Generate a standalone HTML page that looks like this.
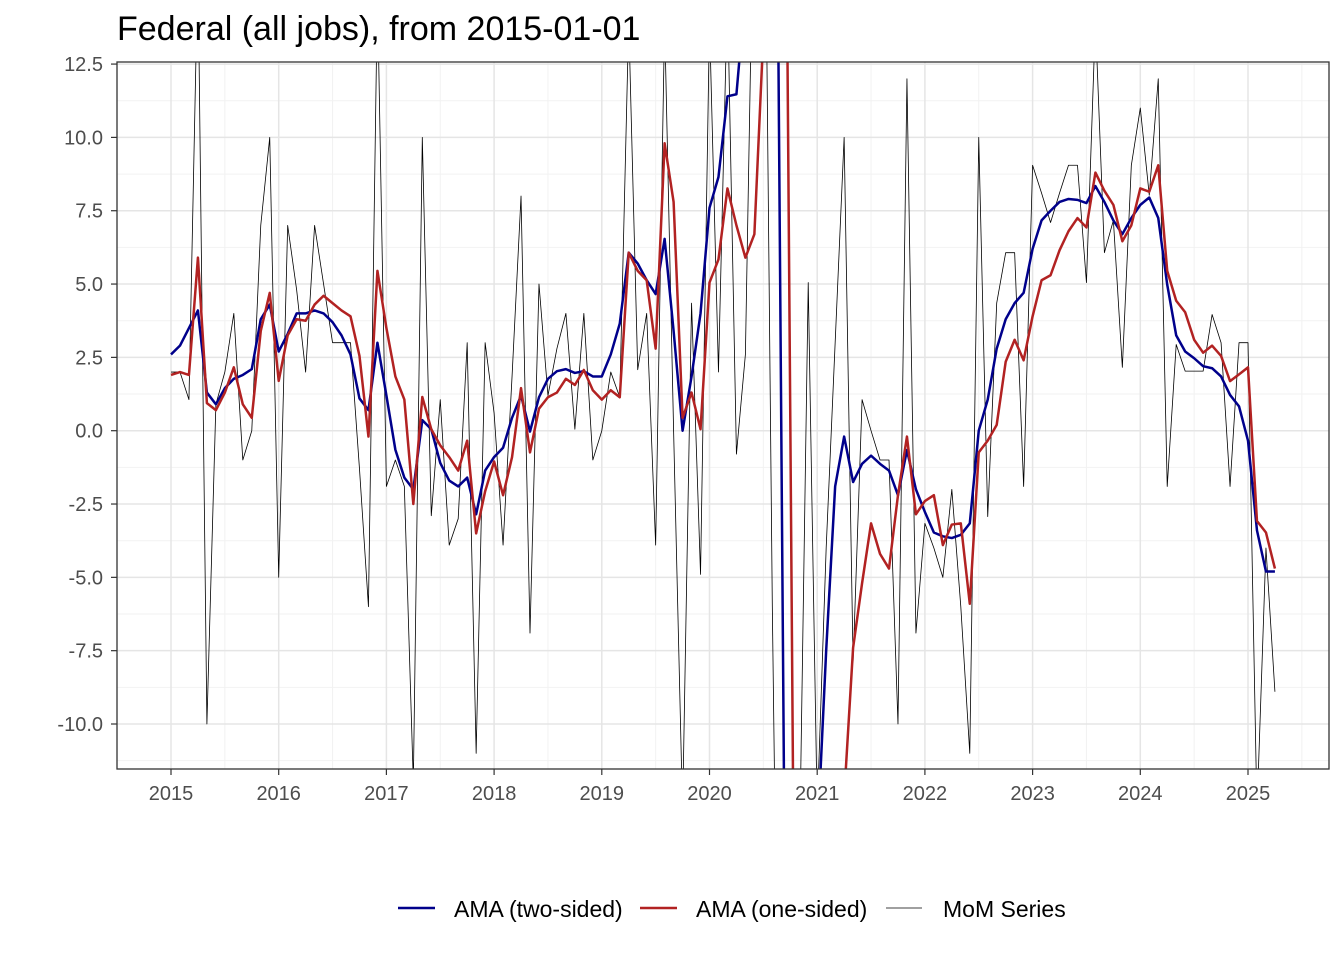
<!DOCTYPE html>
<html><head><meta charset="utf-8"><style>
html,body{margin:0;padding:0;background:#fff;width:1344px;height:960px;overflow:hidden;}
svg{display:block;font-family:"Liberation Sans",Arial,sans-serif;}
</style></head><body>
<svg id="chart" width="1344" height="960" viewBox="0 0 1344 960">
<text x="117" y="40" font-size="34" fill="#000">Federal (all jobs), from 2015-01-01</text>
<defs><clipPath id="clip"><rect x="117" y="62" width="1212" height="707"/></clipPath></defs>
<g id="grid"></g>
<g id="series" clip-path="url(#clip)"></g>
<rect x="117" y="62" width="1212" height="707" fill="none" stroke="#333" stroke-width="1.3"/>
<g id="axes"></g>
<g>
 <line x1="398" y1="908" x2="435" y2="908" stroke="#00008B" stroke-width="2.5"/>
 <text x="454" y="917" font-size="23" fill="#000">AMA (two-sided)</text>
 <line x1="640" y1="908" x2="677" y2="908" stroke="#B22222" stroke-width="2.5"/>
 <text x="696" y="917" font-size="23" fill="#000">AMA (one-sided)</text>
 <line x1="886" y1="908" x2="922" y2="908" stroke="#000" stroke-width="0.8"/>
 <text x="943" y="917" font-size="23" fill="#000">MoM Series</text>
</g>
</svg>
<script>
const yTicks = [-10, -7.5, -5, -2.5, 0, 2.5, 5, 7.5, 10, 12.5];
const yTickLabels = ["-10.0","-7.5","-5.0","-2.5","0.0","2.5","5.0","7.5","10.0","12.5"];
const xYears = [2015,2016,2017,2018,2019,2020,2021,2022,2023,2024,2025];
const startYear = 2015;
const momSeries = [2.0,2.0,1.06,16,-10,0.9,2.0,4.0,-1.0,0,7.0,10.0,
-5.0,7.0,4.8,2.0,7.0,5.0,3.0,3.0,3.0,-1.3,-6.0,15,
-1.9,-1.0,-1.9,-12,10.0,-2.9,1.06,-3.9,-3.0,3.0,-11.0,3.0,
0.6,-3.9,1.85,8.0,-6.9,5.0,1.2,2.8,4.0,0.05,4.0,-1.0,
0.0,2.0,1.14,14,2.08,4.0,-3.9,14,0,-13,4.35,-4.9,
14,2.0,15,-0.8,2.6,20,25,-6,-30,-25,-15,5.05,
-13,-4,3,10,-7.9,1.06,0,-1.0,-1.0,-10,12,-6.9,
-3.16,-4,-5,-2,-6,-11,10,-2.93,4.35,6.07,6.07,-1.9,
9.05,8.1,7.1,8.1,9.05,9.05,5.05,14,6.07,7.17,2.16,9.05,
11,8.03,12,-1.9,2.94,2.03,2.03,2.03,3.96,3.0,-1.9,3.0,
3.0,-13,-4,-8.9];
const amaTwoSided = [2.6,2.9,3.5,4.1,1.3,0.9,1.45,1.77,1.9,2.1,3.8,4.3,
2.7,3.3,4.0,4.0,4.1,4.0,3.7,3.25,2.6,1.1,0.7,3.0,
1.2,-0.65,-1.6,-2.0,0.36,0.05,-1.1,-1.7,-1.9,-1.6,-2.85,-1.36,
-0.9,-0.58,0.44,1.2,-0.03,1.14,1.77,2.03,2.1,1.97,2.03,1.85,
1.85,2.6,3.65,6.07,5.7,5.13,4.66,6.54,3.4,0,1.85,4.0,
7.6,8.65,11.4,11.47,15,20,30,40,0,-40,-30,-20,
-14,-7.5,-1.9,-0.2,-1.75,-1.13,-0.85,-1.13,-1.36,-2.2,-0.66,-2.0,
-2.77,-3.47,-3.6,-3.66,-3.55,-3.16,0,1.06,2.8,3.8,4.35,4.7,
6.2,7.17,7.5,7.8,7.9,7.87,7.76,8.34,7.8,7.17,6.7,7.25,
7.7,7.95,7.25,4.98,3.25,2.7,2.47,2.2,2.13,1.85,1.22,0.83,
-0.34,-3.4,-4.8,-4.8];
const amaOneSided = [1.9,2.0,1.9,5.9,0.94,0.7,1.3,2.16,0.9,0.44,3.4,4.7,
1.7,3.25,3.8,3.75,4.3,4.6,4.35,4.1,3.9,2.55,-0.2,5.45,
3.5,1.85,1.06,-2.5,1.15,0.05,-0.5,-0.9,-1.36,-0.34,-3.5,-2.07,
-1.05,-2.2,-0.9,1.45,-0.74,0.75,1.14,1.3,1.77,1.56,2.07,1.38,
1.06,1.38,1.14,6.07,5.45,5.13,2.8,9.8,7.8,0.44,1.3,0.05,
5.05,5.84,8.26,7.0,5.9,6.7,13.5,25,40,0.5,-40,-30,
-22,-18,-15,-12.5,-7.4,-5.2,-3.16,-4.2,-4.7,-2.2,-0.2,-2.85,
-2.4,-2.2,-3.9,-3.2,-3.16,-5.9,-0.74,-0.34,0.2,2.35,3.1,2.4,
3.9,5.13,5.3,6.15,6.8,7.25,6.93,8.8,8.18,7.7,6.46,7.0,
8.26,8.15,9.05,5.45,4.43,4.04,3.1,2.66,2.9,2.55,1.69,1.92,
2.16,-3.08,-3.47,-4.7];

const NS = "http://www.w3.org/2000/svg";
const X0 = 171, PX_PER_YEAR = 107.7;
const Y0 = 430.7, PX_PER_UNIT = 29.33;
function xScale(t){ return X0 + (t - startYear) * PX_PER_YEAR; }
function yScale(v){ return Y0 - v * PX_PER_UNIT; }
function mk(tag, attrs, parent){ const e = document.createElementNS(NS, tag); for (const k in attrs) e.setAttribute(k, attrs[k]); parent.appendChild(e); return e; }

const grid = document.getElementById('grid');
mk('rect', {x:117,y:62,width:1212,height:707,fill:'#fff'}, grid);
for (let i = 0; i < yTicks.length; i++) {
  const v = yTicks[i] - 1.25;
  const g = mk('line', {x1:117,x2:1329,y1:yScale(v),y2:yScale(v),stroke:'#f2f2f2','stroke-width':1}, grid);
  
  
}
for (let i = 0; i < xYears.length + 1; i++) {
  const t = xYears[0] - 0.5 + i;
  const g = mk('line', {x1:xScale(t),x2:xScale(t),y1:62,y2:769,stroke:'#f2f2f2','stroke-width':1}, grid);
  
  
}
for (let i = 0; i < yTicks.length; i++) {
  const g = mk('line', {x1:117,x2:1329,y1:yScale(yTicks[i]),y2:yScale(yTicks[i]),stroke:'#e5e5e5','stroke-width':1.5}, grid);
  
  
}
for (let i = 0; i < xYears.length; i++) {
  const g = mk('line', {x1:xScale(xYears[i]),x2:xScale(xYears[i]),y1:62,y2:769,stroke:'#e5e5e5','stroke-width':1.5}, grid);
  
  
}

const axes = document.getElementById('axes');
for (let i = 0; i < yTicks.length; i++) {
  const y = yScale(yTicks[i]);
  const tk = mk('line', {x1:111,x2:117,y1:y,y2:y,stroke:'#333','stroke-width':1.2}, axes);
  
  
  const tx = mk('text', {x:103,y:y+7,'text-anchor':'end','font-size':20,fill:'#4d4d4d'}, axes);
  tx.textContent = yTickLabels[i];
  
  
}
for (let i = 0; i < xYears.length; i++) {
  const x = xScale(xYears[i]);
  const tk = mk('line', {x1:x,x2:x,y1:769,y2:775,stroke:'#333','stroke-width':1.2}, axes);
  
  
  const tx = mk('text', {x:x,y:800,'text-anchor':'middle','font-size':20,fill:'#4d4d4d'}, axes);
  tx.textContent = String(xYears[i]);
  
  
}

const series = document.getElementById('series');
function line(vals, color, w, name){
  const pts = vals.map((v, i) => xScale(startYear + i/12).toFixed(2) + ',' + yScale(v).toFixed(2)).join(' ');
  const p = mk('polyline', {points:pts,fill:'none',stroke:color,'stroke-width':w,'stroke-linejoin':'round'}, series);
  
  
}
line(momSeries, '#000', 0.8, 'mom-series-line');
line(amaTwoSided, '#00008B', 2.5, 'ama-two-sided-line');
line(amaOneSided, '#B22222', 2.5, 'ama-one-sided-line');
</script>
</body></html>
